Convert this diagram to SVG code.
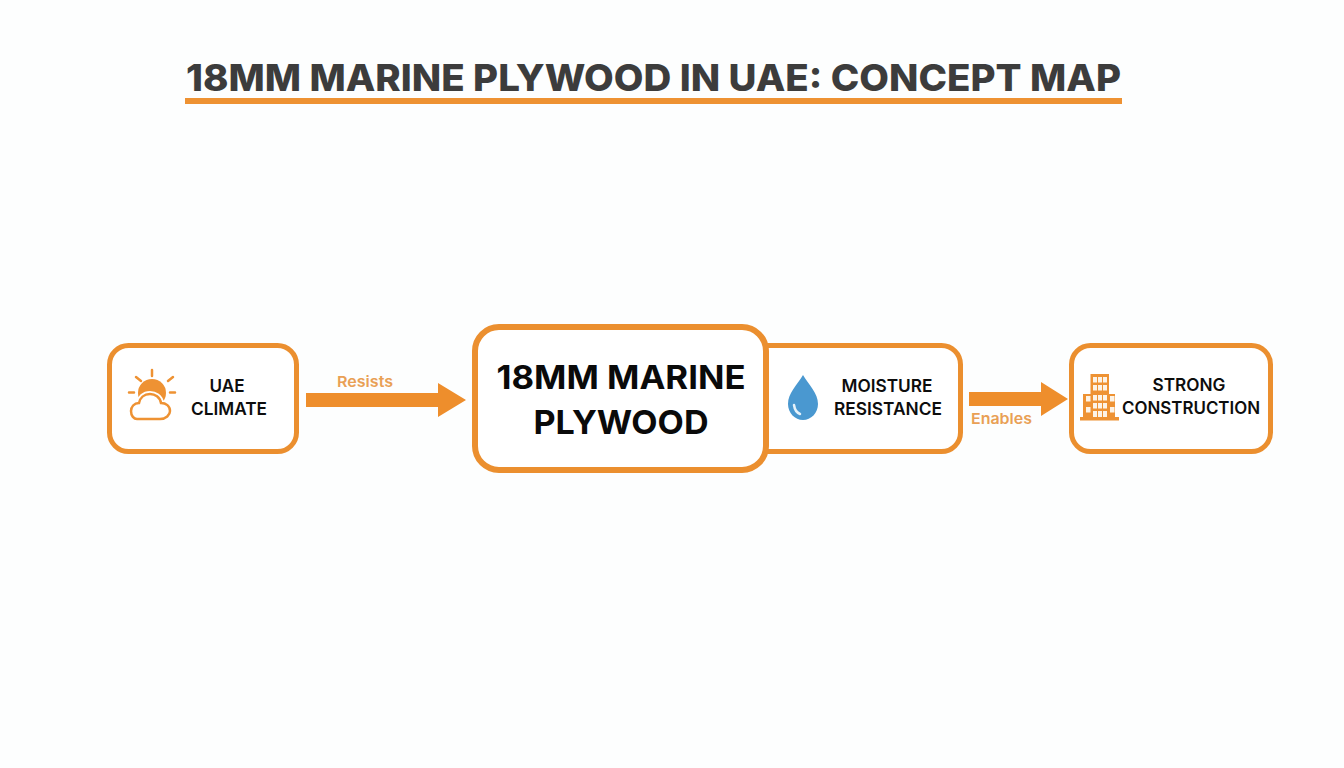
<svg xmlns="http://www.w3.org/2000/svg" width="1344" height="768" viewBox="0 0 1344 768">
<style>
text{font-family:Inter,"Liberation Sans",Arial,sans-serif;font-weight:700;text-anchor:middle}
.box{fill:#fff;stroke:#eb8f2f;stroke-width:5}
.lab{fill:#0d0d0d;font-size:17.500px;font-weight:600}
.edge{fill:#e9a055;font-size:15px;font-weight:600}
.arrow{fill:#ee8e2c}
.ic{fill:#ee9233}
.ico{fill:none;stroke:#ee9233;stroke-width:2.500;stroke-linecap:round}
.win{fill:#fdf3e6}
</style>
<rect width="1344" height="768" fill="#fdfefe"/>
<g id="title">
<text x="653.500" y="91" font-size="37" fill="#3c3c3c" style="font-weight:800" textLength="935" lengthAdjust="spacingAndGlyphs">18MM MARINE PLYWOOD IN UAE: CONCEPT MAP</text>
<rect x="185" y="98" width="937" height="6" fill="#ee9233"/>
</g>
<g id="connectors">
<path class="arrow" d="M306 393H438V383L466 400L438 417V407H306Z"/>
<text class="edge" x="365" y="387" textLength="56" lengthAdjust="spacingAndGlyphs">Resists</text>
<path class="arrow" d="M969 392H1041V382L1068 399L1041 416V406H969Z"/>
<text class="edge" x="1001.500" y="424" textLength="61" lengthAdjust="spacingAndGlyphs">Enables</text>
</g>
<g id="node-uae-climate">
<rect class="box" x="109.500" y="345.500" width="187" height="106" rx="19"/>
<g id="icon-climate">
<circle class="ic" cx="152" cy="393" r="14"/>
<path d="M137 419H160C166 419 170 415 170 411C170 406 166 403 161 403C160 397 155 394 150 394C144 394 140 398 139 403C134 403 131 407 131 411C131 416 134 419 137 419Z" fill="#fff" stroke="#fff" stroke-width="6"/>
<path d="M137 419H160C166 419 170 415 170 411C170 406 166 403 161 403C160 397 155 394 150 394C144 394 140 398 139 403C134 403 131 407 131 411C131 416 134 419 137 419Z" fill="#fff" stroke="#ee9233" stroke-width="2.500"/>
<path class="ico" d="M152 370V376M136 377L141 381M168 381L173 377M129 392.500H134M170 392.500H175"/>
</g>
<text class="lab" x="227" y="392" textLength="35" lengthAdjust="spacingAndGlyphs">UAE</text>
<text class="lab" x="229" y="415" textLength="76" lengthAdjust="spacingAndGlyphs">CLIMATE</text>
</g>
<g id="node-moisture-resistance">
<rect class="box" x="735" y="345.500" width="225.500" height="106" rx="19"/>
<g id="icon-drop">
<path fill="#4a98d0" d="M803 375C797 385 788 393 788 404C788 413 795 420 803 420C811 420 818 413 818 404C818 393 809 385 803 375Z"/>
<path fill="none" stroke="#e6f2fa" stroke-width="2.500" stroke-linecap="round" d="M794 405Q795 412 800 414"/>
</g>
<text class="lab" x="887" y="392" textLength="91" lengthAdjust="spacingAndGlyphs">MOISTURE</text>
<text class="lab" x="888" y="415" textLength="108" lengthAdjust="spacingAndGlyphs">RESISTANCE</text>
</g>
<g id="node-marine-plywood">
<rect x="475" y="327" width="291" height="143" rx="24" fill="#fff" stroke="#eb8f2f" stroke-width="6"/>
<text x="621" y="389" font-size="33" fill="#0a0a0a" textLength="249" lengthAdjust="spacingAndGlyphs">18MM MARINE</text>
<text x="621" y="434" font-size="33" fill="#0a0a0a" textLength="175" lengthAdjust="spacingAndGlyphs">PLYWOOD</text>
</g>
<g id="node-strong-construction">
<rect class="box" x="1071.500" y="345.500" width="199" height="106" rx="19"/>
<g id="icon-building">
<path class="ic" d="M1090.500 374H1109V394H1115V417H1119V420.500H1080V417H1083V394H1090.500Z"/>
<g class="win">
<rect x="1093" y="377" width="4" height="5.500"/><rect x="1098" y="377" width="4" height="5.500"/><rect x="1103" y="377" width="4" height="5.500"/>
<rect x="1093" y="385" width="4" height="5.500"/><rect x="1098" y="385" width="4" height="5.500"/><rect x="1103" y="385" width="4" height="5.500"/>
<rect x="1086" y="396" width="4.500" height="5.500"/><rect x="1093" y="395" width="4" height="5.500"/><rect x="1098" y="395" width="4" height="5.500"/><rect x="1103" y="395" width="4" height="5.500"/><rect x="1110" y="396" width="4.500" height="5.500"/>
<rect x="1086" y="407" width="4.500" height="5.500"/><rect x="1093" y="403" width="4" height="5.500"/><rect x="1098" y="403" width="4" height="5.500"/><rect x="1103" y="403" width="4" height="5.500"/><rect x="1110" y="407" width="4.500" height="5.500"/>
<rect x="1093" y="411" width="4" height="6"/><rect x="1098" y="411" width="4" height="6"/><rect x="1103" y="411" width="4" height="6"/>
</g>
</g>
<text class="lab" x="1189" y="391" textLength="73" lengthAdjust="spacingAndGlyphs">STRONG</text>
<text class="lab" x="1191" y="414" textLength="138" lengthAdjust="spacingAndGlyphs">CONSTRUCTION</text>
</g>
</svg>
